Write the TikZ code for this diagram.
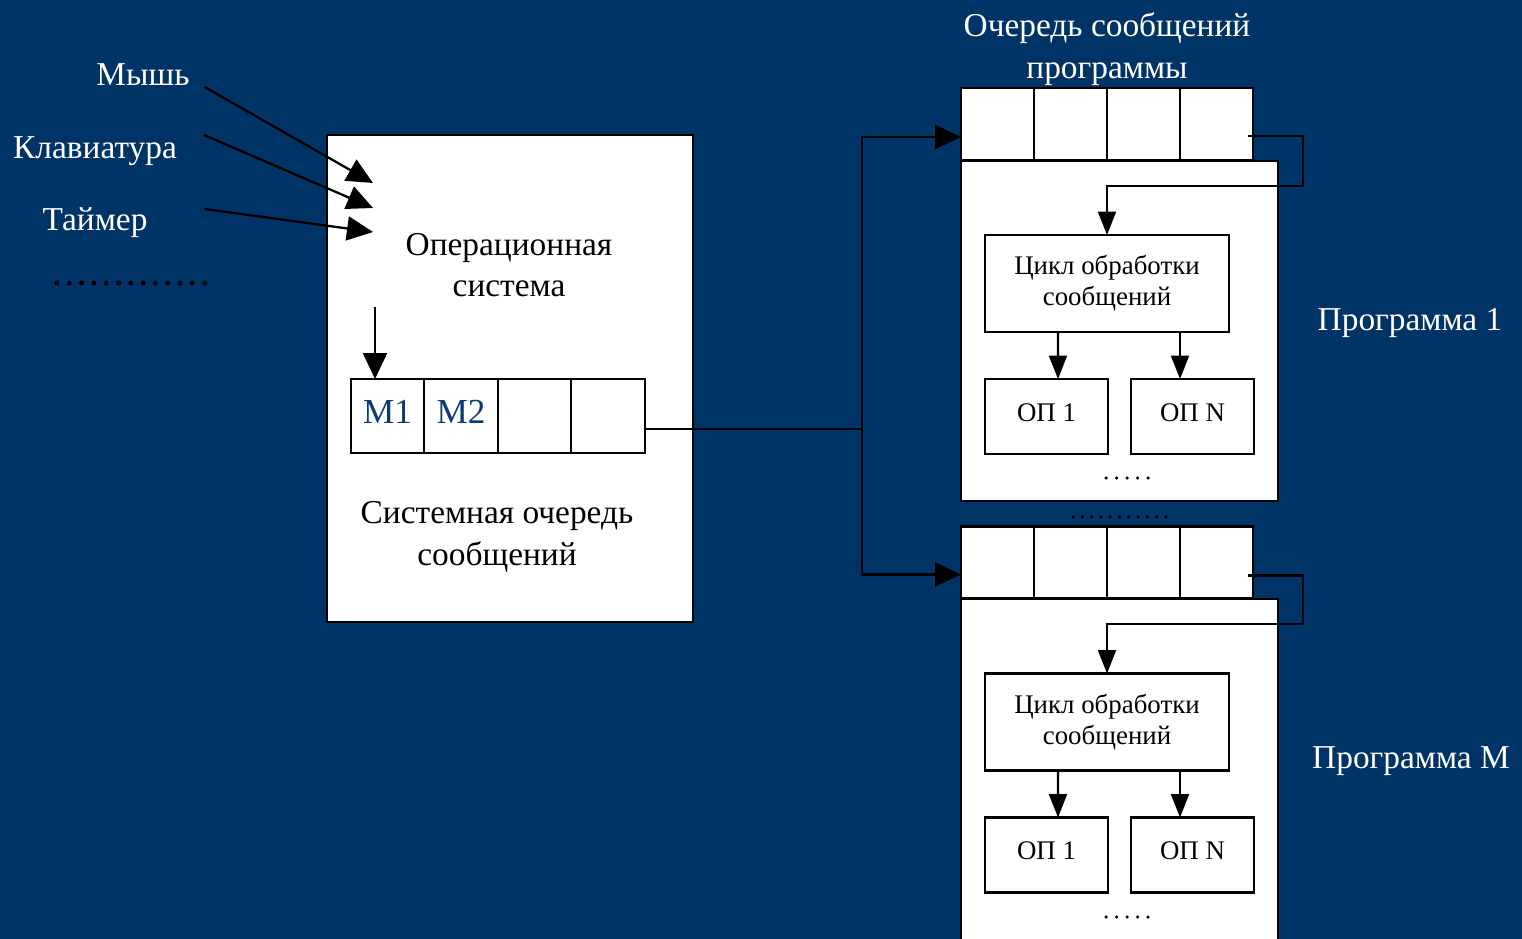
\documentclass[tikz,border=0pt]{standalone}
\usepackage{fontspec}
\setmainfont{Liberation Serif}
\definecolor{navy}{HTML}{003366}
\definecolor{cellblue}{HTML}{0A3C72}
\usetikzlibrary{arrows.meta,positioning,calc}
\newcommand{\biglabel}{\fontsize{19}{23.5}\selectfont}
\newcommand{\boxlabel}{\fontsize{15.3}{17.5}\selectfont}

\begin{document}
\begin{tikzpicture}[x=0.02cm,y=-0.02cm,line width=1.3pt,
  lbl/.style={inner sep=0pt,font=\biglabel,align=center},
  box/.style={draw,fill=white,inner sep=0pt,outer sep=0pt},
  cell/.style={box,minimum width=1.47cm,minimum height=1.48cm,font=\fontsize{20}{22}\selectfont,text=cellblue,text depth=0.16cm},
  pcell/.style={box,minimum width=1.46cm,minimum height=1.44cm},
  opbox/.style={box,minimum width=2.46cm,minimum height=1.5cm,font=\boxlabel,text depth=0.16cm},
  bigarr/.style={-{Triangle[length=0.52cm,width=0.48cm]}},
  smallarr/.style={-{Triangle[length=0.47cm,width=0.36cm]}},
  dotline/.style={line cap=round,dash pattern=on 0pt off #1}]
  \clip (0,0) rectangle (1522,939);
  \fill[navy] (0,0) rectangle (1522,939);
  % sources of messages
  \node[lbl,white] (mouse) at (143,75) {Мышь};
  \node[lbl,white] (keyb) at (95,151) {Клавиатура};
  \node[lbl,white] (timer) at (95,223) {Таймер};
  \draw[dotline=0.246cm,line width=0.1cm] (57,283) -- (205,283);
  % operating system
  \node[box,minimum width=7.32cm,minimum height=9.74cm] (os) at (510,378.5) {};
  \node[lbl] (ostitle) at (509,265) {Операционная\\система};
  \coordinate (inmouse) at (373,183);
  \coordinate (inkeyb) at (373,208);
  \coordinate (intimer) at (373,232);
  \draw[bigarr] ($(mouse.east)+(14,12)$) -- (inmouse);
  \draw[bigarr] ($(keyb.east)+(26,-16)$) -- (inkeyb);
  \draw[bigarr] ($(timer.east)+(56,-14)$) -- (intimer);
  % system queue
  \node[cell] (s1) at (387.5,416) {M1};
  \node[cell,right=0pt of s1] (s2) {M2};
  \node[cell,right=0pt of s2] (s3) {};
  \node[cell,right=0pt of s3] (s4) {};
  \coordinate (osin) at (375,307);
  \draw[bigarr] (osin) -- (osin |- s1.north);
  \node[lbl] (sqtitle) at (497,537) {Системная очередь\\сообщений};
  % dispatch to programs
  \coordinate (fork) at (862,429);
  \draw (s4.east |- fork) -- (fork);
  \node[lbl,white] (qtitle) at (1107,49) {Очередь сообщений\\программы};
  % program 1
  \node[box,minimum width=6.34cm,minimum height=6.8cm] (prog1) at (1119.5,331) {};
  \node[pcell] (p1q1) at (997.5,124) {};
  \node[pcell,right=0pt of p1q1] (p1q2) {};
  \node[pcell,right=0pt of p1q2] (p1q3) {};
  \node[pcell,right=0pt of p1q3] (p1q4) {};
  \node[box,minimum width=4.88cm,minimum height=1.94cm,font=\boxlabel,align=center] (p1cyc) at (1107,283.5) {Цикл обработки\\сообщений};
  \node[opbox] (p1op1) at (1046.5,416.5) {ОП 1};
  \node[opbox] (p1opn) at (1192.5,416.5) {ОП N};
  \coordinate (p1turn) at (1303,186);
  \draw[smallarr] ($(p1q4.east)+(-5,12)$) -| (p1turn) -| (p1cyc.north);
  \draw[smallarr] ($(p1cyc.south)+(-49,0)$) -- ($(p1op1.north)+(11.5,0)$);
  \draw[smallarr] ($(p1cyc.south)+(73,0)$) -- ($(p1opn.north)+(-12.5,0)$);
  \draw[dotline=0.21cm,line width=0.07cm] (1106,478) -- (1148,478);
  \node[lbl,white] (prog1lbl) at (1410,323) {Программа 1};
  \draw[dotline=0.186cm,line width=0.07cm] (1073,517) -- (1166,517);
  % program M
  \node[box,minimum width=6.34cm,minimum height=8cm] (progm) at (1119.5,799) {};
  \node[pcell] (pmq1) at (997.5,562.5) {};
  \node[pcell,right=0pt of pmq1] (pmq2) {};
  \node[pcell,right=0pt of pmq2] (pmq3) {};
  \node[pcell,right=0pt of pmq3] (pmq4) {};
  \node[box,minimum width=4.88cm,minimum height=1.94cm,font=\boxlabel,align=center] (pmcyc) at (1107,722) {Цикл обработки\\сообщений};
  \node[opbox] (pmop1) at (1046.5,855) {ОП 1};
  \node[opbox] (pmopn) at (1192.5,855) {ОП N};
  \coordinate (pmturn) at (1303,624);
  \draw[smallarr] ($(pmq4.east)+(-5,13)$) -| (pmturn) -| (pmcyc.north);
  \draw[smallarr] ($(pmcyc.south)+(-49,0)$) -- ($(pmop1.north)+(11.5,0)$);
  \draw[smallarr] ($(pmcyc.south)+(73,0)$) -- ($(pmopn.north)+(-12.5,0)$);
  \draw[dotline=0.21cm,line width=0.07cm] (1106,917) -- (1148,917);
  \node[lbl,white] (progmlbl) at (1411,761) {Программа M};
  % arrows into program queues
  \draw[bigarr] (fork) |- ($(p1q1.west)+(0,13)$);
  \draw[bigarr] (fork) |- ($(pmq1.west)+(0,12)$);
\end{tikzpicture}
\end{document}
